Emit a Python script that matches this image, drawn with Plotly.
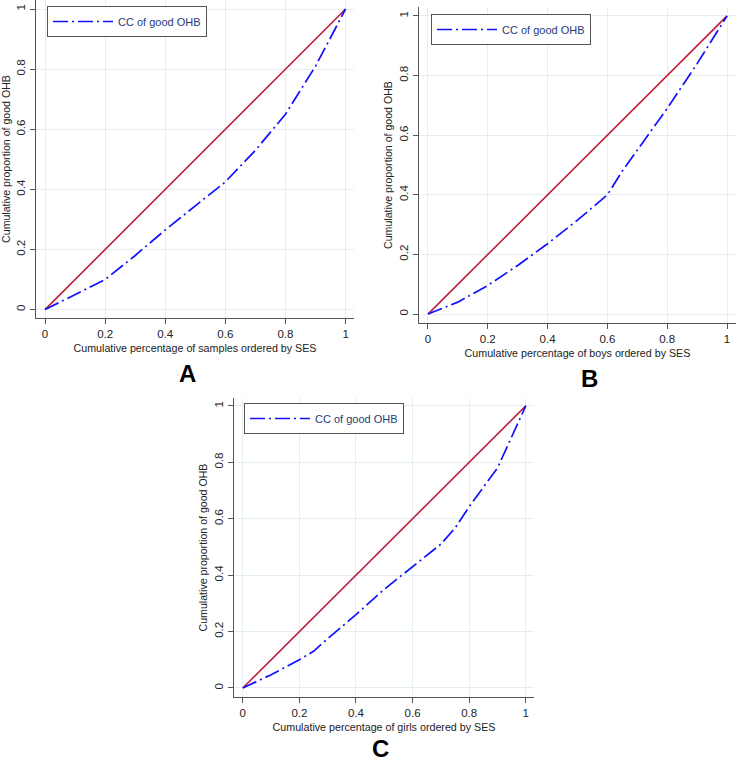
import plotly.graph_objects as go

# ---- data ----
x_A = [0, 0.1, 0.2, 0.3, 0.4, 0.5, 0.6, 0.7, 0.8, 0.9, 1.0]
y_A = [0, 0.05, 0.10, 0.18, 0.265, 0.345, 0.425, 0.53, 0.65, 0.81, 1.0]

x_B = [0, 0.1, 0.2, 0.3, 0.4, 0.5, 0.6, 0.65, 0.7, 0.8, 0.9, 1.0]
y_B = [0, 0.04, 0.096, 0.163, 0.236, 0.315, 0.40, 0.48, 0.55, 0.69, 0.84, 1.0]

x_C = [0, 0.1, 0.2, 0.25, 0.3, 0.4, 0.5, 0.6, 0.7, 0.75, 0.8, 0.9, 1.0]
y_C = [0, 0.047, 0.10, 0.13, 0.175, 0.26, 0.35, 0.43, 0.51, 0.567, 0.643, 0.78, 1.0]

eq_x = [0, 1]
eq_y = [0, 1]

tick_vals = [0, 0.2, 0.4, 0.6, 0.8, 1]
tick_text = ["0", "0.2", "0.4", "0.6", "0.8", "1"]

series_name = "CC of good OHB"
y_title = "Cumulative proportion of good OHB"
x_titles = ["Cumulative percentage of samples ordered by SES",
            "Cumulative percentage of boys ordered by SES",
            "Cumulative percentage of girls ordered by SES"]
panel_labels = ["A", "B", "C"]

# ---- styling ----
W, H = 750, 763
FONT = "Liberation Sans, Arial, sans-serif"
RED = "#BE1E3C"
BLUE = "#1010FF"
GRID = "#E4EEF2"
AXIS = "#555555"
DASH = "15px,4px,2px,4px"

fig = go.Figure()

panels = [
    dict(x=x_A, y=y_A, xd=[36/W, 354/W], yd=[1-318/H, 1.0],
         xr=[-0.030, 1.028], yr=[-0.028, 1.030], leg=(47/W, 1-6/H),
         lab=(187/W, 1-373/H)),
    dict(x=x_B, y=y_B, xd=[419/W, 736/W], yd=[1-323/H, 1-7/H],
         xr=[-0.030, 1.030], yr=[-0.030, 1.030], leg=(431/W, 1-14/H),
         lab=(589/W, 1-378/H)),
    dict(x=x_C, y=y_C, xd=[234/W, 534/W], yd=[1-697/H, 1-398/H],
         xr=[-0.031, 1.029], yr=[-0.032, 1.028], leg=(244/W, 1-403/H),
         lab=(380/W, 1-748/H)),
]

for i, p in enumerate(panels):
    n = "" if i == 0 else str(i + 1)
    xa, ya = "x" + n, "y" + n
    legname = "legend" + n
    fig.add_trace(go.Scatter(x=eq_x, y=eq_y, mode="lines", xaxis=xa, yaxis=ya,
                             line=dict(color=RED, width=1.6), showlegend=False,
                             hoverinfo="skip"))
    fig.add_trace(go.Scatter(x=p["x"], y=p["y"], mode="lines", xaxis=xa, yaxis=ya,
                             name=series_name, legend=legname,
                             line=dict(color=BLUE, width=1.7, dash=DASH)))
    common = dict(showgrid=True, gridcolor=GRID, gridwidth=1, zeroline=False,
                  showline=True, linecolor=AXIS, linewidth=1,
                  ticks="outside", ticklen=5, tickcolor=AXIS, tickwidth=1,
                  tickvals=tick_vals, ticktext=tick_text,
                  tickfont=dict(family=FONT, size=11.5, color="#222222"),
                  automargin=False, fixedrange=True)
    fig.layout["xaxis" + n] = dict(common, domain=p["xd"], range=p["xr"],
                                   anchor=ya,
                                   title=dict(text=x_titles[i], standoff=5,
                                              font=dict(family=FONT, size=10.7, color="#222222")))
    fig.layout["yaxis" + n] = dict(common, domain=p["yd"], range=p["yr"],
                                   anchor=xa, tickangle=-90,
                                   title=dict(text=y_title, standoff=3,
                                              font=dict(family=FONT, size=10.6, color="#222222")))
    fig.layout[legname] = dict(x=p["leg"][0], y=p["leg"][1], xanchor="left", yanchor="top",
                               bgcolor="white", bordercolor=AXIS, borderwidth=1,
                               font=dict(family=FONT, size=11, color="#1F3A7A"),
                               itemwidth=60, xref="paper", yref="paper")
    fig.add_annotation(x=p["lab"][0], y=p["lab"][1], xref="paper", yref="paper",
                       text="<b>%s</b>" % panel_labels[i], showarrow=False,
                       font=dict(family=FONT, size=24, color="black"),
                       xanchor="center", yanchor="middle")

fig.update_layout(width=W, height=H, margin=dict(l=0, r=0, t=0, b=0),
                  paper_bgcolor="white", plot_bgcolor="white",
                  showlegend=True)

fig.write_html("out.html",
               config={"displayModeBar": False},
               post_script="document.body.style.margin='0px';document.body.style.overflow='hidden';")
